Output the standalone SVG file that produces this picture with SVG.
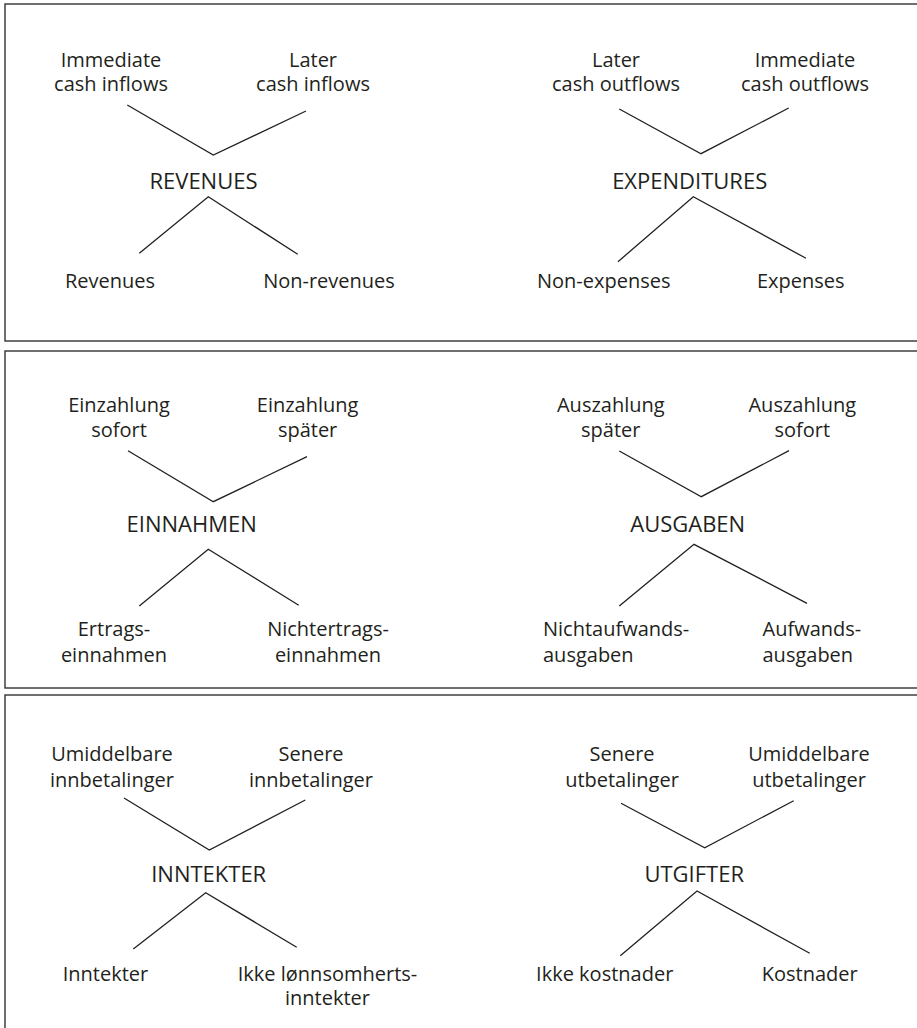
<svg xmlns="http://www.w3.org/2000/svg" width="917" height="1028" viewBox="0 0 917 1028">
  <style>
    .panel { fill: #ffffff; stroke: #333333; stroke-width: 1.4; }
    .lbl { font-family: "Open Sans", "Noto Sans", "Liberation Sans", sans-serif; font-size: 20px; fill: #231f20; text-anchor: middle; }
    .lbl.left { text-anchor: start; }
    .hub { font-family: "Open Sans", "Noto Sans", "Liberation Sans", sans-serif; font-size: 22px; fill: #231f20; text-anchor: middle; }
    .conn { fill: none; stroke: #231f20; stroke-width: 1.3; stroke-linejoin: miter; }
  </style>
  <rect width="917" height="1028" fill="#ffffff"/>

  <!-- three framed panels, running off the right and bottom edges -->
  <g id="panels">
    <rect class="panel" x="5" y="4" width="940" height="337"/>
    <rect class="panel" x="5" y="351" width="940" height="337"/>
    <rect class="panel" x="5" y="695" width="940" height="360"/>
  </g>

  <!-- connectors -->
  <g id="connectors">
    <!-- English -->
    <polyline class="conn" points="127.3,105 213.3,155 306,111"/>
    <polyline class="conn" points="139.3,253.3 208.3,196.7 297.7,254.3"/>
    <polyline class="conn" points="619.3,109 701,153.7 788.7,108"/>
    <polyline class="conn" points="618,261.7 693.3,196.7 806,258.3"/>
    <!-- German -->
    <polyline class="conn" points="128,450.7 213.3,501.7 307,456.7"/>
    <polyline class="conn" points="139.3,606 208.3,549.3 298.7,605.3"/>
    <polyline class="conn" points="619.3,451 701.3,496.7 789,450.7"/>
    <polyline class="conn" points="619.3,606 694,544.3 807,603.3"/>
    <!-- Norwegian -->
    <polyline class="conn" points="124,798 209.3,850 305.3,800"/>
    <polyline class="conn" points="133.3,949 205.7,892.7 296.7,947.3"/>
    <polyline class="conn" points="621,803.3 704.7,847.7 793.7,800.7"/>
    <polyline class="conn" points="620.3,955.7 697,891 809.7,953.3"/>
  </g>

  <!-- English panel -->
  <g id="en-immediate-inflows"><text class="lbl" x="111" y="66.7">Immediate</text><text class="lbl" x="111" y="91">cash inflows</text></g>
  <g id="en-later-inflows"><text class="lbl" x="313" y="66.7">Later</text><text class="lbl" x="313" y="91">cash inflows</text></g>
  <g id="en-revenues-hub"><text class="hub" x="203.5" y="189.3">REVENUES</text></g>
  <g id="en-revenues"><text class="lbl" x="110" y="288.3">Revenues</text></g>
  <g id="en-non-revenues"><text class="lbl" x="329" y="288.3">Non-revenues</text></g>

  <g id="en-later-outflows"><text class="lbl" x="616" y="66.7">Later</text><text class="lbl" x="616" y="91">cash outflows</text></g>
  <g id="en-immediate-outflows"><text class="lbl" x="805" y="66.7">Immediate</text><text class="lbl" x="805" y="91">cash outflows</text></g>
  <g id="en-expenditures-hub"><text class="hub" x="689.7" y="189.3">EXPENDITURES</text></g>
  <g id="en-non-expenses"><text class="lbl" x="603.7" y="288.3">Non-expenses</text></g>
  <g id="en-expenses"><text class="lbl" x="800.8" y="288.3">Expenses</text></g>

  <!-- German panel -->
  <g id="de-einzahlung-sofort"><text class="lbl" x="119" y="411.7">Einzahlung</text><text class="lbl" x="119" y="437.3">sofort</text></g>
  <g id="de-einzahlung-spaeter"><text class="lbl" x="307.6" y="411.7">Einzahlung</text><text class="lbl" x="307.6" y="437.3">später</text></g>
  <g id="de-einnahmen-hub"><text class="hub" x="191.7" y="531.7">EINNAHMEN</text></g>
  <g id="de-ertragseinnahmen"><text class="lbl" x="114" y="635.7">Ertrags-</text><text class="lbl" x="114" y="661.7">einnahmen</text></g>
  <g id="de-nichtertragseinnahmen"><text class="lbl" x="328" y="635.7">Nichtertrags-</text><text class="lbl" x="328" y="661.7">einnahmen</text></g>

  <g id="de-auszahlung-spaeter"><text class="lbl" x="610.8" y="411.7">Auszahlung</text><text class="lbl" x="610.8" y="437.3">später</text></g>
  <g id="de-auszahlung-sofort"><text class="lbl" x="802.3" y="411.7">Auszahlung</text><text class="lbl" x="802.3" y="437.3">sofort</text></g>
  <g id="de-ausgaben-hub"><text class="hub" x="687.7" y="532">AUSGABEN</text></g>
  <g id="de-nichtaufwandsausgaben"><text class="lbl left" x="543" y="635.7">Nichtaufwands-</text><text class="lbl left" x="543" y="661.7">ausgaben</text></g>
  <g id="de-aufwandsausgaben"><text class="lbl left" x="762.5" y="635.7">Aufwands-</text><text class="lbl left" x="762.5" y="661.7">ausgaben</text></g>

  <!-- Norwegian panel -->
  <g id="no-umiddelbare-innbetalinger"><text class="lbl" x="112" y="760.7">Umiddelbare</text><text class="lbl" x="112" y="786.7">innbetalinger</text></g>
  <g id="no-senere-innbetalinger"><text class="lbl" x="311" y="760.7">Senere</text><text class="lbl" x="311" y="786.7">innbetalinger</text></g>
  <g id="no-inntekter-hub"><text class="hub" x="208.7" y="881.7">INNTEKTER</text></g>
  <g id="no-inntekter"><text class="lbl" x="105.5" y="980.7">Inntekter</text></g>
  <g id="no-ikke-lonnsomhertsinntekter"><text class="lbl" x="327.5" y="980.7">Ikke lønnsomherts-</text><text class="lbl" x="327.5" y="1005">inntekter</text></g>

  <g id="no-senere-utbetalinger"><text class="lbl" x="622" y="760.7">Senere</text><text class="lbl" x="622" y="786.7">utbetalinger</text></g>
  <g id="no-umiddelbare-utbetalinger"><text class="lbl" x="809" y="760.7">Umiddelbare</text><text class="lbl" x="809" y="786.7">utbetalinger</text></g>
  <g id="no-utgifter-hub"><text class="hub" x="694.2" y="881.7">UTGIFTER</text></g>
  <g id="no-ikke-kostnader"><text class="lbl" x="604.7" y="980.7">Ikke kostnader</text></g>
  <g id="no-kostnader"><text class="lbl" x="809.7" y="980.7">Kostnader</text></g>
</svg>
